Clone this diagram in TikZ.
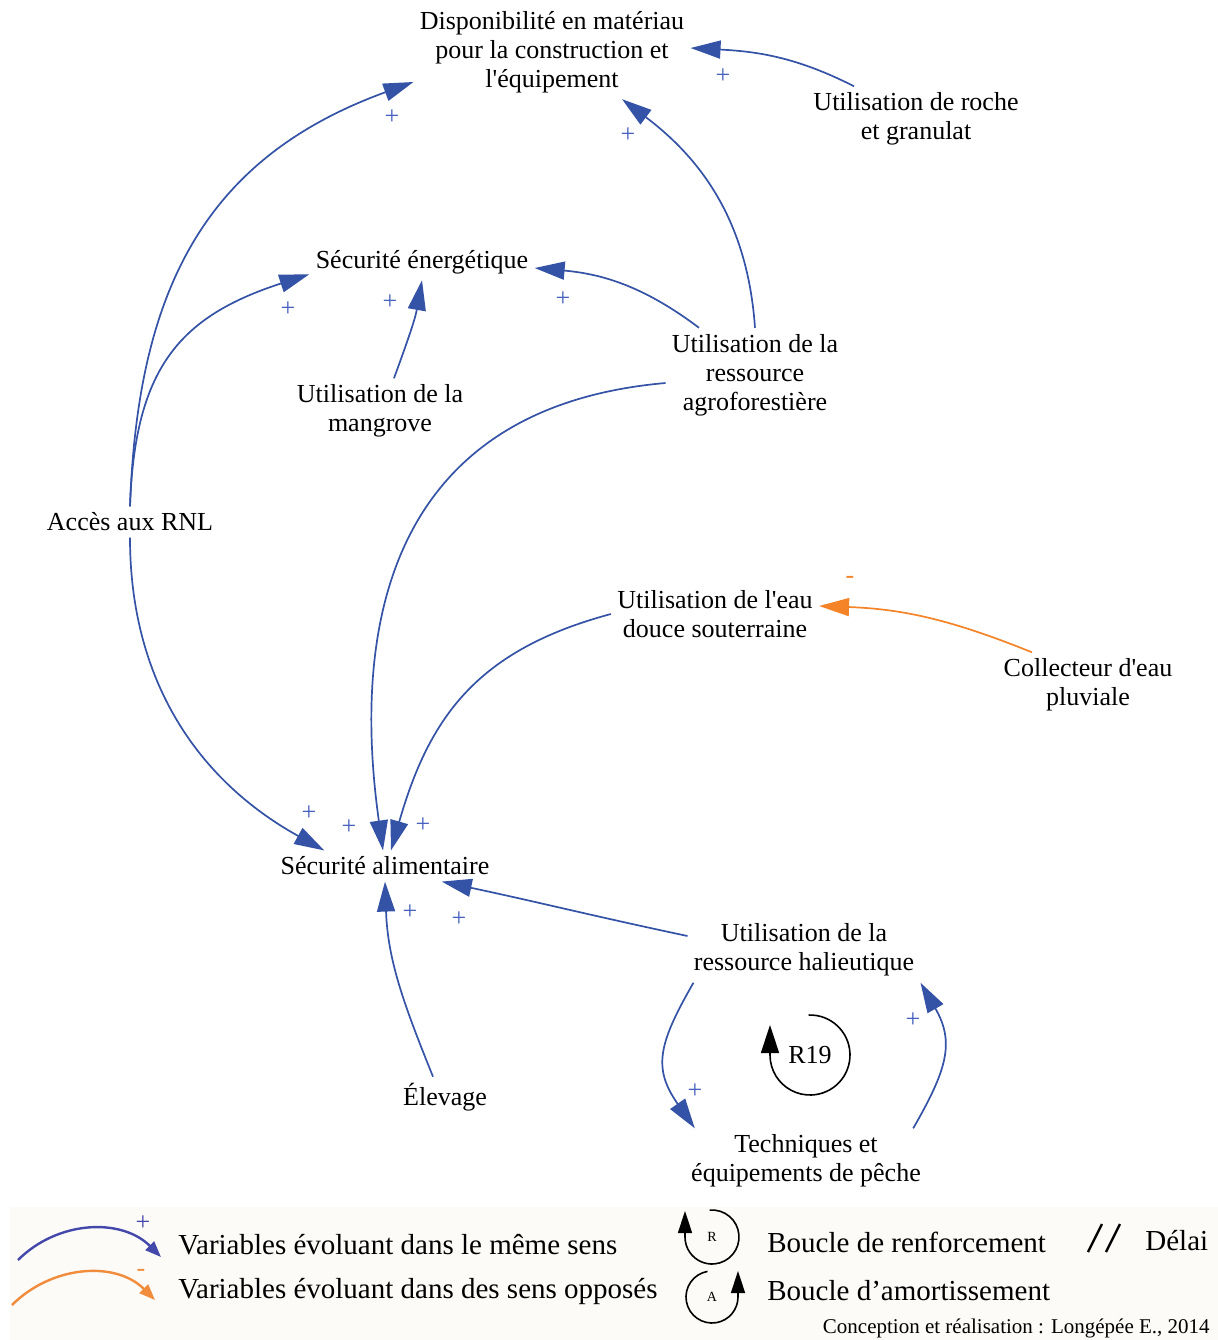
\documentclass[tikz,border=0pt]{standalone}
\usepackage{fontspec}
\setmainfont{Liberation Serif}[Ligatures=TeXOff]
\usepackage{xcolor}
\usepackage{tikz}
\usetikzlibrary{arrows.meta, calc}

\definecolor{linkblue}{RGB}{53,83,166}
\definecolor{signblue}{RGB}{72,96,190}
\definecolor{linkorange}{RGB}{245,132,40}
\definecolor{legblue}{RGB}{68,72,170}
\definecolor{legorange}{RGB}{240,140,60}
\definecolor{legbgcol}{RGB}{252,251,248}

\begin{document}
\begin{tikzpicture}[x=0.5pt,y=0.5pt,
  var/.style={align=center,inner sep=3pt,font=\fontsize{13}{14.5}\selectfont},
  poslink/.style={draw=linkblue,line width=0.85pt,-{Triangle[length=15pt,width=9pt]}},
  neglink/.style={draw=linkorange,line width=0.85pt,-{Triangle[length=15pt,width=9pt]}},
  plus/.style={text=signblue,inner sep=0pt,font=\fontsize{13}{13}\selectfont},
  minus/.style={text=linkorange,inner sep=0pt,font=\fontsize{13}{13}\selectfont},
  loopline/.style={line width=0.8pt},
  legarrow/.style={line width=1.2pt,-{Triangle[length=8pt,width=6pt]}},
  legtext/.style={anchor=west,inner sep=0pt,font=\fontsize{14.5}{16}\selectfont},
  legbg/.style={fill=legbgcol}]
\useasboundingbox (0,0) rectangle (1218,-1340);

\node[var] (dispo) at (552,-52) {Disponibilité en matériau\\pour la construction et\\l'équipement};
\node[var] (roche) at (916,-119) {Utilisation de roche\\et granulat};
\node[var] (energie) at (422,-262) {Sécurité énergétique};
\node[var] (mangrove) at (380,-411) {Utilisation de la\\mangrove};
\node[var] (agro) at (755,-375) {Utilisation de la\\ressource\\agroforestière};
\node[var] (rnl) at (130,-522) {Accès aux RNL};
\node[var] (eau) at (715,-614) {Utilisation de l'eau\\douce souterraine};
\node[var] (collecteur) at (1088,-685) {Collecteur d'eau\\pluviale};
\node[var] (alim) at (385,-866) {Sécurité alimentaire};
\node[var] (halieu) at (804,-950) {Utilisation de la\\ressource halieutique};
\node[var] (elevage) at (445,-1097) {Élevage};
\node[var] (peche) at (806,-1161) {Techniques et\\équipements de pêche};
\node[var] (r19) at (810,-1055) {R19};

\draw[poslink] (rnl.north) to[out=88,in=200,looseness=1.1] ([yshift=-15pt]dispo.west);
\draw[poslink] (rnl.north) to[out=88,in=198,looseness=1.2] ([yshift=3pt]energie.south west);
\draw[poslink] ([xshift=7pt]mangrove.north) to[out=70,in=260] (energie.south);
\draw[poslink] ([xshift=-28pt]agro.north) to[out=143,in=355] ([yshift=-3pt]energie.east);
\draw[poslink] (agro.north) to[out=94,in=323] ([xshift=35pt]dispo.south);
\draw[poslink] ([xshift=-31pt]roche.north) to[out=153,in=357] ([yshift=2pt]dispo.east);
\draw[poslink] ([yshift=-4pt]agro.west) to[out=185,in=98,looseness=1.2] ([xshift=-1pt]alim.north);
\draw[poslink] (eau.west) to[out=195,in=74,looseness=1.1] ([xshift=3pt]alim.north);
\draw[neglink] ([xshift=-28pt]collecteur.north) to[out=158,in=358] ([yshift=4pt]eau.east);
\draw[poslink] (rnl.south) to[out=270,in=151] ([xshift=25pt]alim.north west);
\draw[poslink] ([xshift=-6pt]elevage.north) to[out=112,in=272] (alim.south);
\draw[poslink] ([yshift=7pt]halieu.west) to[out=168,in=348] ([xshift=-27pt]alim.south east);
\draw[poslink] ([xshift=3pt]halieu.south west) to[out=240,in=125,looseness=1.27] ([xshift=5pt]peche.north west);
\draw[poslink] ([xshift=-7pt]peche.north east) to[out=60,in=300,looseness=1.2] (halieu.south east);

\foreach \x/\y [count=\i] in {392/117, 288/309, 390/302, 563/299, 628/135, 723/76,
  349/827, 423/825, 309/813, 410/912, 459/919, 695/1091, 913/1020}
  \node[plus] (plus\i) at (\x,-\y) {+};
\node[minus] (minus1) at (850,-580) {-};

\draw[loopline] ($(r19.center)+(92:40)$) arc[start angle=92,end angle=-180,radius=20pt] coordinate (r19end);
\draw[loopline,-{Triangle[length=14pt,width=9pt]}] (r19end) -- ++(0,30);

\fill[legbg] (10,-1207) rectangle (1218,-1340);
\coordinate (legposA) at (18,-1260);
\coordinate (legposB) at (161,-1257);
\draw[legarrow,legblue] (legposA) to[out=45,in=135] (legposB);
\node[plus,text=legblue] (legplus) at (143,-1223) {+};
\coordinate (legnegA) at (12,-1305);
\coordinate (legnegB) at (155,-1300);
\draw[legarrow,legorange] (legnegA) to[out=45,in=135] (legnegB);
\node[minus,text=legorange] (legminus) at (141,-1273) {-};
\node[legtext] (legpos) at (178,-1245) {Variables évoluant dans le même sens};
\node[legtext] (legneg) at (178,-1291) {Variables évoluant dans des sens opposés};

\node[inner sep=0pt,font=\fontsize{7}{7}\selectfont] (legR) at (712,-1237) {R};
\draw[loopline] ($(legR.center)+(95:27)$) arc[start angle=95,end angle=-180,radius=13.5pt] coordinate (legRend);
\draw[loopline,-{Triangle[length=11pt,width=7pt]}] (legRend) -- ++(0,26);
\node[inner sep=0pt,font=\fontsize{7}{7}\selectfont] (legA) at (712,-1297) {A};
\draw[loopline] ($(legA.center)+(100:26)$) arc[start angle=100,end angle=360,radius=13pt] coordinate (legAend);
\draw[loopline,-{Triangle[length=11pt,width=7pt]}] (legAend) -- ++(0,26);
\node[legtext] (legrenf) at (767,-1242) {Boucle de renforcement};
\node[legtext] (legamort) at (767,-1291) {Boucle d’amortissement};

\draw[line width=1.2pt] (1088,-1252) -- (1102,-1224);
\draw[line width=1.2pt] (1106,-1252) -- (1120,-1224);
\node[legtext] (legdelai) at (1145,-1241) {Délai};
\node[anchor=east,inner sep=0pt,font=\fontsize{10.5}{11}\selectfont] (credit) at (1210,-1328) {Conception et réalisation : Longépée E., 2014};
\end{tikzpicture}
\end{document}
